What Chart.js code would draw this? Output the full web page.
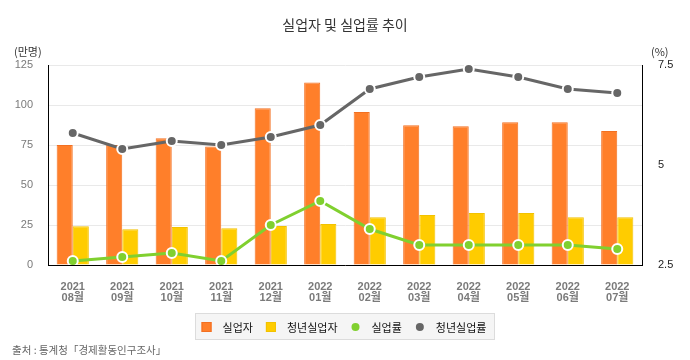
<!DOCTYPE html>
<html><head><meta charset="utf-8">
<script src="https://cdn.jsdelivr.net/npm/chart.js@4/dist/chart.umd.min.js"></script>
<style>html,body{margin:0;padding:0;background:#fff}canvas{display:block}</style>
</head><body>
<canvas id="c" width="690" height="360"></canvas>
<script>
const categories = [['2021','08월'],['2021','09월'],['2021','10월'],['2021','11월'],['2021','12월'],['2022','01월'],['2022','02월'],['2022','03월'],['2022','04월'],['2022','05월'],['2022','06월'],['2022','07월']];
const unemployed = [75.0, 75.0, 79.2, 74.0, 97.9, 114.0, 95.7, 87.3, 86.7, 89.2, 89.2, 83.7];
const youthUnemployed = [24.2, 22.4, 23.8, 22.9, 24.4, 25.6, 29.8, 31.2, 32.5, 32.5, 29.8, 29.8];
const unemploymentRate = [2.6, 2.7, 2.8, 2.6, 3.5, 4.1, 3.4, 3.0, 3.0, 3.0, 3.0, 2.9];
const youthUnemploymentRate = [5.8, 5.4, 5.6, 5.5, 5.7, 6.0, 6.9, 7.2, 7.4, 7.2, 6.9, 6.8];
const leftTicks = [0, 25, 50, 75, 100, 125];
const rightTicks = [2.5, 5, 7.5];
const seriesNames = ['실업자', '청년실업자', '실업률', '청년실업률'];
const titleText = '실업자 및 실업률 추이';
const leftUnit = '(만명)';
const rightUnit = '(%)';
const sourceText = '출처 : 통계청「경제활동인구조사」';

const KFONT = '"Liberation Sans", "Noto Sans CJK KR", sans-serif';
Chart.defaults.font.family = KFONT;

const decorPlugin = {
  id: 'decor',
  afterDraw(chart) {
    const ctx = chart.ctx;
    const area = chart.chartArea;
    ctx.save();
    ctx.fillStyle = '#333';
    ctx.font = '14px "Noto Sans CJK KR", sans-serif';
    ctx.textAlign = 'center';
    ctx.textBaseline = 'middle';
    ctx.fillText(titleText, (area.left + area.right) / 2, 25);
    ctx.font = '11px "Noto Sans CJK KR", sans-serif';
    ctx.fillStyle = '#333';
    ctx.textAlign = 'left';
    ctx.fillText(leftUnit, 14, 52);
    ctx.fillText(rightUnit, 651, 52);
    ctx.fillStyle = '#666';
    ctx.font = '10.5px "Noto Sans CJK KR", sans-serif';
    ctx.fillText(sourceText, 12, 350);
    ctx.font = '11px "Noto Sans CJK KR", sans-serif';
    const ds = chart.data.datasets;
    const markerW = 10, gapMT = 11, gapItems = 13, padX = 7;
    const widths = ds.map(d => markerW + gapMT + ctx.measureText(d.label).width);
    const total = widths.reduce((a, b) => a + b, 0) + gapItems * (ds.length - 1);
    const cx = 344;
    let x = cx - total / 2;
    const boxX = Math.round(x - padX) + 0.5, boxW = Math.round(total + padX * 2), boxY = 313.5, boxH = 26;
    ctx.fillStyle = '#f5f5f5';
    ctx.fillRect(boxX, boxY, boxW, boxH);
    ctx.strokeStyle = '#dcdcdc';
    ctx.lineWidth = 1;
    ctx.strokeRect(boxX, boxY, boxW, boxH);
    const cy = 327;
    ds.forEach((d, i) => {
      if (d.type === 'bar') {
        ctx.fillStyle = d.backgroundColor;
        ctx.fillRect(x, cy - 5, 10, 10);
        ctx.strokeStyle = d.borderColor;
        ctx.strokeRect(x + 0.5, cy - 4.5, 9, 9);
      } else {
        ctx.beginPath();
        ctx.arc(x + 5, cy, 4, 0, Math.PI * 2);
        ctx.fillStyle = d.borderColor;
        ctx.fill();
      }
      ctx.fillStyle = '#111';
      ctx.textAlign = 'left';
      ctx.fillText(d.label, x + markerW + gapMT, cy + 0.5);
      x += widths[i] + gapItems;
    });
    ctx.restore();
  }
};

new Chart(document.getElementById('c'), {
  data: {
    labels: categories,
    datasets: [
      { type: 'bar', label: seriesNames[0], data: unemployed, yAxisID: 'y',
        backgroundColor: '#FF7F2A', borderColor: '#F27022', borderWidth: 1, order: 3 },
      { type: 'bar', label: seriesNames[1], data: youthUnemployed, yAxisID: 'y',
        backgroundColor: '#FFCC00', borderColor: '#F2C200', borderWidth: 1, order: 3 },
      { type: 'line', label: seriesNames[2], data: unemploymentRate, yAxisID: 'y1',
        borderColor: '#80D02F', backgroundColor: '#80D02F', borderWidth: 3,
        pointRadius: 5, pointBorderWidth: 2, pointBorderColor: '#fff', pointBackgroundColor: '#80D02F',
        tension: 0, order: 2 },
      { type: 'line', label: seriesNames[3], data: youthUnemploymentRate, yAxisID: 'y1',
        borderColor: '#666666', backgroundColor: '#666666', borderWidth: 3,
        pointRadius: 5, pointBorderWidth: 2, pointBorderColor: '#fff', pointBackgroundColor: '#666666',
        tension: 0, order: 1 }
    ]
  },
  options: {
    responsive: false,
    animation: false,
    layout: { padding: { top: 65, bottom: 50, left: 0, right: 0 } },
    plugins: { legend: { display: false }, title: { display: false }, tooltip: { enabled: false } },
    datasets: { bar: { categoryPercentage: 0.65, barPercentage: 1.0 } },
    scales: {
      x: {
        grid: { display: false, drawTicks: false },
        border: { display: true, color: '#000', width: 1 },
        ticks: { color: '#7a7a7a', padding: 17, maxRotation: 0, autoSkip: false,
                 font: { size: 11, weight: 'bold', lineHeight: 0.95 } },
        afterFit(s) { s.height = 45; }
      },
      y: {
        position: 'left', min: 0, max: 125,
        afterBuildTicks(s) { s.ticks = leftTicks.map(v => ({ value: v })); },
        grid: { color: '#e9e9e9', drawTicks: false },
        border: { display: true, color: '#000', width: 1 },
        ticks: { color: '#7a7a7a', padding: 15, font: { size: 11 } },
        afterFit(s) { s.width = 48; }
      },
      y1: {
        position: 'right', min: 2.5, max: 7.5,
        afterBuildTicks(s) { s.ticks = rightTicks.map(v => ({ value: v })); },
        grid: { display: false, drawTicks: false },
        border: { display: true, color: '#000', width: 1 },
        ticks: { color: '#222', padding: 16, font: { size: 11 } },
        afterFit(s) { s.width = 48; }
      }
    }
  },
  plugins: [decorPlugin]
});
</script>
</body></html>
